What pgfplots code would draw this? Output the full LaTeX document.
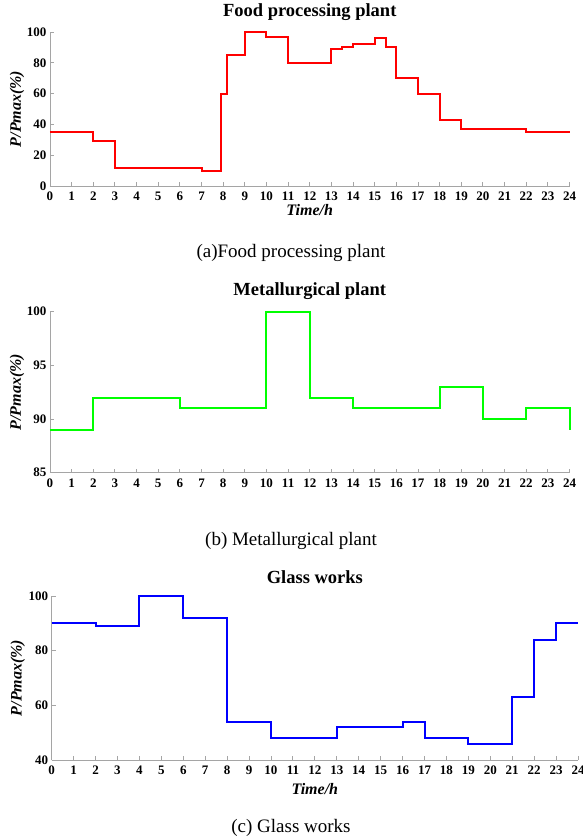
\documentclass[border=0pt]{standalone}
\usepackage{pgfplots}
\pgfplotsset{compat=1.18}
\usepackage{fontspec}
\setmainfont{Liberation Serif}
\definecolor{axgray}{RGB}{165,165,165}
\pgfplotsset{
  panel/.style={
    scale only axis,
    axis x line*=bottom, axis y line*=left,
    axis line style={draw=axgray, line width=0.9pt, -},
    tick style={draw=axgray, line width=0.9pt},
    tick align=inside, major tick length=4pt,
    xmin=0, xmax=24, xtick={0,1,...,24},
    clip=false,
    /pgf/number format/assume math mode=true,
    ticklabel style={font=\fontsize{13}{13}\selectfont\bfseries},
    xticklabel style={yshift=-2.5pt},
    title style={font=\fontsize{18.5}{18.5}\selectfont\bfseries, at={(axis description cs:0.5,1)}, anchor=base},
    ylabel style={font=\fontsize{16}{16}\selectfont\bfseries\itshape, at={(axis description cs:0,0.5)}, anchor=center},
    xlabel style={font=\fontsize{16}{16}\selectfont\bfseries\itshape, at={(axis description cs:0.5,0)}, anchor=center},
    ylabel={P/Pmax(\%)},
  },
  stepline/.style={const plot mark left, line width=2pt, no marks},
}
\begin{document}
\begin{tikzpicture}
\useasboundingbox (0,0) rectangle (582pt,-840pt);
% (a) Food processing plant
\begin{axis}[panel, at={(50pt,-186pt)}, anchor=south west,
  width=519.5pt, height=154pt,
  ymin=0, ymax=100, ytick={0,20,...,100},
  title={Food processing plant}, title style={yshift=9pt},
  ylabel style={yshift=33pt},
  xlabel={Time/h}, xlabel style={yshift=-24pt}]
\addplot[stepline, color={rgb,255:red,255;green,0;blue,0}] coordinates {
(0,35) (2,29) (3,12) (7,10) (7.9,60) (8.2,85) (9,100) (10,97) (11,80)
(13,89) (13.5,90) (14,92) (15,96) (15.5,90) (16,70) (17,60) (18,43)
(19,37) (22,35) (24,35)};
\end{axis}
\node[font=\fontsize{19}{19}\selectfont] at (291pt,-253pt) {(a)Food processing plant};
% (b) Metallurgical plant
\begin{axis}[panel, at={(50pt,-472.7pt)}, anchor=south west,
  width=519.5pt, height=161pt,
  ymin=85, ymax=100, ytick={85,90,95,100},
  title={Metallurgical plant}, title style={yshift=10pt},
  ylabel style={yshift=33pt}]
\addplot[stepline, color={rgb,255:red,0;green,255;blue,0}] coordinates {
(0,89) (2,92) (6,91) (10,100) (12,92) (14,91) (18,93) (20,90) (22,91) (24,89)};
\end{axis}
\node[font=\fontsize{19}{19}\selectfont] at (291pt,-541pt) {(b) Metallurgical plant};
% (c) Glass works
\begin{axis}[panel, at={(51.7pt,-760pt)}, anchor=south west,
  width=526.3pt, height=164pt,
  ymin=40, ymax=100, ytick={40,60,80,100},
  title={Glass works}, title style={yshift=6.7pt},
  ylabel style={yshift=34pt},
  xlabel={Time/h}, xlabel style={yshift=-29pt}]
\addplot[stepline, color={rgb,255:red,0;green,0;blue,255}] coordinates {
(0,90) (2,89) (4,100) (6,92) (8,54) (10,48) (13,52) (16,54) (17,48)
(19,46) (21,63) (22,84) (23,90) (24,90)};
\end{axis}
\node[font=\fontsize{19}{19}\selectfont] at (291pt,-828pt) {(c) Glass works};
\end{tikzpicture}
\end{document}
